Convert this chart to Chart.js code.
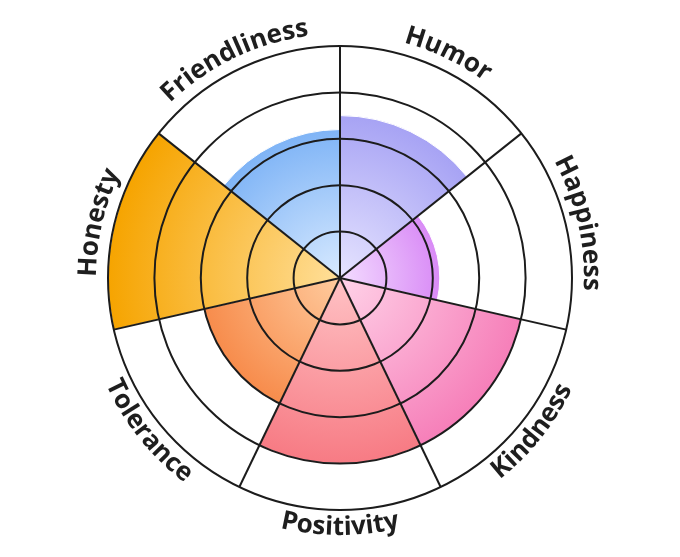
<!DOCTYPE html>
<html>
<head>
<meta charset="utf-8">
<script src="https://cdn.jsdelivr.net/npm/chart.js@4.4.1/dist/chart.umd.min.js"></script>
<style>
  html, body { margin: 0; padding: 0; background: #fff; }
  #wrap { width: 680px; height: 557px; }
</style>
</head>
<body>
<div id="wrap"><canvas id="traitChart" width="680" height="557"></canvas></div>
<script>
// data
const traits = ['Humor', 'Happiness', 'Kindness', 'Positivity', 'Tolerance', 'Honesty', 'Friendliness'];
const scores = [3.5, 2.15, 4, 4, 3, 5, 3.2];
const scaleMax = 5;

// colours: light near the centre, full at the outer edge
const innerColors = ['#e6e4ff', '#f3dcff', '#ffd2e8', '#ffc2c5', '#ffcb9e', '#ffdf9a', '#d8eaff'];
const outerColors = ['#a7a3f4', '#d98bf6', '#f67fb9', '#f77b84', '#f78c4c', '#f6a400', '#7fb4f6'];

function segmentFill(ctx) {
  const chart = ctx.chart;
  const r = chart.scales.r;
  const i = ctx.dataIndex;
  if (!r || !isFinite(r.xCenter) || !r.drawingArea) return outerColors[i];
  const rad = r.getDistanceFromCenterForValue(scores[i]);
  const g = chart.ctx.createRadialGradient(r.xCenter, r.yCenter, 0, r.xCenter, r.yCenter, Math.max(rad, 1));
  g.addColorStop(0, innerColors[i]);
  g.addColorStop(1, outerColors[i]);
  return g;
}

// labels bent along the outer ring
const arcLabels = {
  id: 'arcLabels',
  afterDraw(chart) {
    const r = chart.scales.r;
    const c = chart.ctx;
    const step = Math.PI * 2 / traits.length;
    c.save();
    c.font = 'bold 26px "Open Sans"';
    c.fillStyle = '#1e1e1e';
    c.textAlign = 'center';
    c.textBaseline = 'alphabetic';
    traits.forEach((t, i) => {
      let mid = -Math.PI / 2 + step * (i + 0.5);
      let norm = (mid + Math.PI * 2) % (Math.PI * 2);
      const lower = norm > 0.05 && norm < Math.PI - 0.05;
      const rad = lower ? r.drawingArea + 25 : r.drawingArea + 12;
      const chars = t.split('');
      const widths = chars.map(ch => c.measureText(ch).width);
      const total = widths.reduce((a, b) => a + b, 0);
      const span = total / rad;
      let acc = 0;
      chars.forEach((ch, k) => {
        const off = (acc + widths[k] / 2) / rad;
        const a = lower ? mid + span / 2 - off : mid - span / 2 + off;
        c.save();
        c.translate(r.xCenter + rad * Math.cos(a), r.yCenter + rad * Math.sin(a));
        c.rotate(lower ? a - Math.PI / 2 : a + Math.PI / 2);
        c.fillText(ch, 0, 0);
        c.restore();
        acc += widths[k];
      });
    });
    c.restore();
  }
};

new Chart(document.getElementById('traitChart'), {
  type: 'polarArea',
  data: {
    labels: traits,
    datasets: [{
      data: scores,
      backgroundColor: segmentFill,
      borderColor: '#ffffff',
      borderWidth: 1
    }]
  },
  options: {
    responsive: false,
    animation: false,
    layout: { padding: { top: 46, bottom: 47, left: 0, right: 0 } },
    plugins: { legend: { display: false }, tooltip: { enabled: false } },
    scales: {
      r: {
        z: 1,
        min: 0,
        max: scaleMax,
        ticks: { display: false, stepSize: 1, z: 1 },
        grid: { circular: true, color: '#1c1c1c', lineWidth: 2, z: 1 },
        angleLines: { display: true, color: '#1c1c1c', lineWidth: 2 },
        pointLabels: { display: false }
      }
    }
  },
  plugins: [arcLabels]
});
</script>
</body>
</html>
